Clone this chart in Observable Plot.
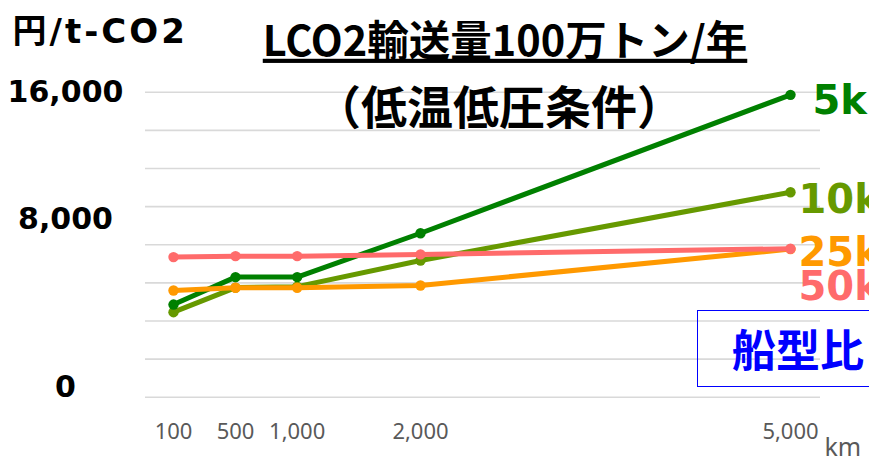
<!DOCTYPE html>
<html>
<head>
<meta charset="utf-8">
<script src="https://cdn.jsdelivr.net/npm/d3@7"></script>
<script src="https://cdn.jsdelivr.net/npm/@observablehq/plot@0.6"></script>
<style>
  html, body { margin: 0; padding: 0; background: #fff; overflow: hidden; }
  #wrap { position: relative; width: 869px; height: 461px; overflow: hidden; }
  #shipbox {
    position: absolute; left: 697px; top: 310px; width: 220px; height: 77px;
    border: 1.5px solid #0000ff; box-sizing: border-box;
    font-family: "Noto Sans CJK JP", sans-serif; font-weight: 700;
    font-size: 44px; color: #0000ff; line-height: 74px; padding-left: 34px;
    white-space: nowrap;
  }
</style>
</head>
<body>
<div id="wrap"><div id="chart"></div><div id="shipbox">船型比</div></div>
<script>
// Transport distance (km) and tick labels
const distances = [100, 500, 1000, 2000, 5000];
const distanceLabels = ["100", "500", "1,000", "2,000", "5,000"];

// Cost per ship size (円/t-CO2)
const cost5k  = [4860, 6300, 6300, 8600, 15860];
const cost10k = [4460, 5750, 5800, 7170, 10750];
const cost25k = [5600, 5740, 5740, 5860, 7770];
const cost50k = [7350, 7400, 7400, 7490, 7790];

const shipNames  = ["5k", "10k", "25k", "50k"];
const shipColors = ["#008000", "#669900", "#ff9900", "#ff6b6b"];

const yTicks = [0, 8000, 16000];
const gridValues = d3.range(0, 16001, 2000);

const titleText = "LCO2輸送量100万トン/年";
const subtitleText = "（低温低圧条件）";
const unitText = "円/t-CO2";

const seriesValues = {"5k": cost5k, "10k": cost10k, "25k": cost25k, "50k": cost50k};
const rows = shipNames.flatMap(name =>
  distances.map((km, i) => ({ship: name, km, cost: seriesValues[name][i]}))
);
const colorOf = Object.fromEntries(shipNames.map((n, i) => [n, shipColors[i]]));

// draw order: 10k, 5k, 25k, 50k (50k on top)
const drawOrder = ["10k", "5k", "25k", "50k"];
const seriesMarks = drawOrder.flatMap(name => {
  const data = rows.filter(r => r.ship === name);
  return [
    Plot.line(data, {x: "km", y: "cost", stroke: colorOf[name], strokeWidth: 5}),
    Plot.dot(data, {x: "km", y: "cost", r: 5.2, fill: colorOf[name], stroke: "none"})
  ];
});

const endLabel = (name, dx, dy) => {
  const vals = seriesValues[name];
  return Plot.text([name], {
    x: () => distances[distances.length - 1],
    y: () => vals[vals.length - 1],
    text: d => d, fill: colorOf[name], textAnchor: "start", lineAnchor: "middle",
    dx, dy, fontSize: 40, fontWeight: "bold", fontFamily: "DejaVu Sans"
  });
};

const yLabel = (value, dy) => Plot.text([value], {
  y: d => d, text: d => d3.format(",")(d), frameAnchor: "left",
  dx: -80, dy, textAnchor: "middle", lineAnchor: "middle",
  fontSize: 30, fontWeight: "bold", fill: "#000", fontFamily: "DejaVu Sans"
});

const chart = Plot.plot({
  width: 869,
  height: 461,
  marginLeft: 145,
  marginRight: 49,
  marginTop: 0,
  marginBottom: 64,
  style: {fontFamily: "'DejaVu Sans', 'Noto Sans CJK JP', sans-serif", background: "#fff", overflow: "visible"},
  x: {type: "linear", domain: [100, 500, 5000], range: [173, 235, 790], axis: null},
  y: {domain: [0, 16000], range: [396.7, 91.7], axis: null},
  marks: [
    Plot.ruleY(gridValues, {stroke: "#d9d9d9", strokeWidth: 1.6}),
    ...seriesMarks,
    // x tick labels
    Plot.text(distances, {
      x: d => d, text: (d, i) => distanceLabels[i], frameAnchor: "bottom",
      dy: 34, lineAnchor: "middle", fontSize: 22, fill: "#595959", fontFamily: "Noto Sans"
    }),
    Plot.text(["km"], {
      frameAnchor: "bottom-right", dx: 4, dy: 50, textAnchor: "start", lineAnchor: "middle",
      fontSize: 25, fill: "#595959", fontFamily: "Noto Sans"
    }),
    // y tick labels
    yLabel(yTicks[2], 0),
    yLabel(yTicks[1], -25),
    yLabel(yTicks[0], -10),
    // unit
    Plot.text([unitText], {
      frameAnchor: "top-left", dx: -133, dy: 32, textAnchor: "start", lineAnchor: "middle",
      fontSize: 34, fontWeight: "bold", fill: "#000", fontFamily: "DejaVu Sans, Noto Sans CJK JP"
    }),
    // titles
    Plot.text([titleText], {
      frameAnchor: "top", dx: 22, dy: 42, lineAnchor: "middle",
      fontSize: 41.5, fontWeight: "bold", fill: "#000", fontFamily: "Noto Sans CJK JP"
    }),
    Plot.text([subtitleText], {
      frameAnchor: "top", dx: 16, dy: 109, lineAnchor: "middle",
      fontSize: 46, fontWeight: "bold", fill: "#000", fontFamily: "Noto Sans CJK JP"
    }),
    // ship size labels at line ends
    endLabel("5k", 22, 6),
    endLabel("10k", 8, 8),
    endLabel("25k", 8, 4),
    endLabel("50k", 8, 38)
  ]
});

const texts = d3.select(chart).selectAll("text");
texts.filter(function () { return this.textContent === titleText; })
  .attr("text-decoration", "underline");
texts.filter(function () { return this.textContent === unitText; })
  .attr("letter-spacing", "3px");

document.getElementById("chart").appendChild(chart);
</script>
</body>
</html>
